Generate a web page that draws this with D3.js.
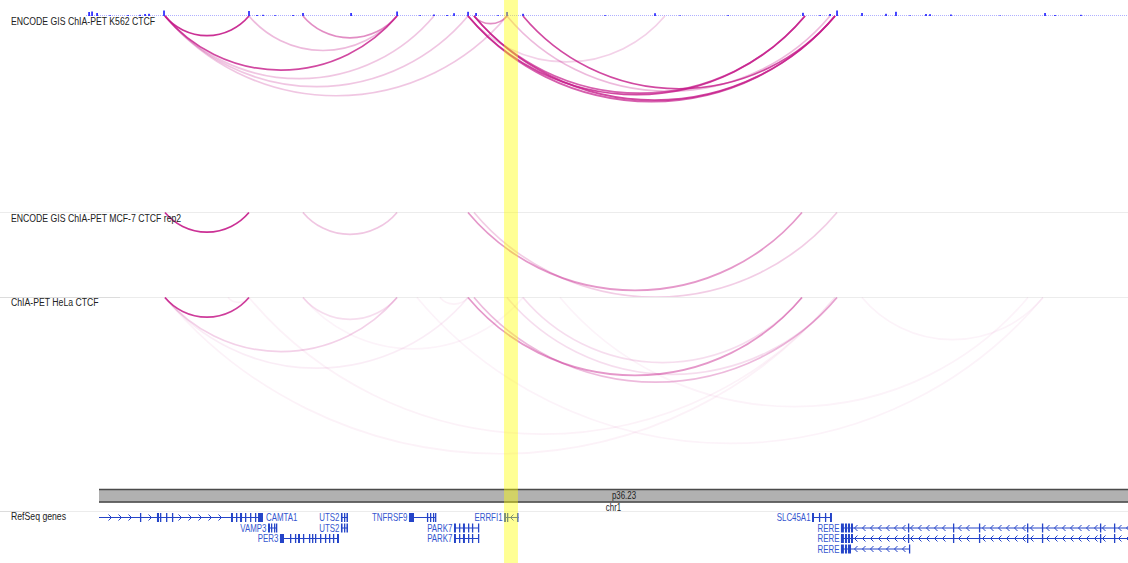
<!DOCTYPE html>
<html>
<head>
<meta charset="utf-8">
<script src="https://cdn.jsdelivr.net/npm/d3@7"></script>
<style>
  body { margin: 0; background: #fff; }
  svg { display: block; font-family: "Liberation Sans", Arial, sans-serif; }
</style>
</head>
<body>
<svg id="chart" width="1128" height="563"></svg>
<script>
// View: chr1, coordinates in kb
const viewStart = 7562.8, viewEnd = 8705.5;
const highlightStart = 8073.4, highlightEnd = 8087.5;

// CTCF signal (bigwig) positions (kb) and values
const signalPos = [7653.0, 7656.0, 7661.1, 7674.2, 7692.5, 7704.6, 7709.7, 7713.7, 7728.9, 7815.0,
  7823.1, 7829.2, 7841.4, 7859.6, 7869.7, 7918.4, 7965.0, 7988.3, 8002.4, 8015.6,
  8022.7, 8036.9, 8045.0, 8067.3, 8076.4, 8092.6, 8175.7, 8226.3, 8251.6, 8300.3,
  8376.2, 8393.5, 8403.6, 8410.7, 8436.0, 8460.3, 8470.4, 8484.6, 8500.8, 8504.9,
  8526.1, 8575.8, 8621.4, 8631.5, 8657.8];
const signalVal = [40, 45, 30, 8, 10, 12, 20, 22, 55, 50,
  10, 12, 8, 10, 30, 30, 45, 8, 15, 10,
  28, 42, 30, 8, 40, 22, 8, 28, 6, 8,
  32, 8, 20, 55, 30, 22, 42, 6, 20, 18,
  15, 5, 30, 10, 12];

// ChIA-PET interactions: [anchor1 kb, anchor2 kb, PET score]
const k562Arcs = [
  [7729.9, 7815.0, 9], [7729.9, 7965.0, 8], [7815.0, 7965.0, 3], [7869.7, 7965.0, 5],
  [7729.9, 8002.4, 2.5], [7729.9, 8036.9, 2.5], [7729.9, 8076.4, 2.5], [8043.0, 8076.4, 5],
  [8036.9, 8236.4, 2], [8036.9, 8378.3, 8], [8043.0, 8378.3, 7], [8036.9, 8408.7, 7],
  [8043.0, 8408.7, 8], [8092.6, 8408.7, 8], [8076.4, 8403.6, 3]
];
const mcf7Arcs = [
  [7729.9, 7815.0, 9], [7869.7, 7965.0, 2.5], [8036.9, 8375.2, 4.5], [8043.0, 8410.7, 2.2]
];
const helaArcs = [
  [7729.9, 7815.0, 8.5], [7793.8, 7815.0, 0.6], [7869.7, 7965.0, 1.5], [7729.9, 7965.0, 2],
  [7729.9, 8036.9, 0.8], [7729.9, 8408.7, 0.6], [7815.0, 8408.7, 0.6], [7985.2, 8619.4, 0.5],
  [8036.9, 8375.2, 4.5], [8043.0, 8410.7, 3], [8092.6, 8375.2, 1.5], [8076.4, 8410.7, 1.5],
  [8008.5, 8036.9, 0.6], [8130.1, 8604.2, 0.5], [8436.0, 8619.4, 0.5], [7869.7, 8092.6, 0.5]
];

const trackNames = ["ENCODE GIS ChIA-PET K562 CTCF", "ENCODE GIS ChIA-PET MCF-7 CTCF rep2", "ChIA-PET HeLa CTCF"];

// Ideogram
const chromName = "chr1";
const bandName = "p36.23";

// RefSeq genes
const geneNames  = ["CAMTA1", "UTS2", "TNFRSF9", "ERRFI1", "SLC45A1", "VAMP3", "UTS2", "PARK7", "RERE", "PER3", "PARK7", "RERE", "RERE"];
const geneRow    = [0, 0, 0, 0, 0, 1, 1, 1, 1, 2, 2, 2, 3];
const geneStrand = ["+", "-", "-", "-", "+", "+", "-", "+", "-", "+", "+", "-", "-"];
const geneStart  = [6845.5, 7908.2, 7977.1, 8073.4, 8385.4, 7834.3, 7908.2, 8022.7, 8414.7, 7846.4, 8022.7, 8414.7, 8414.7];
const geneEnd    = [7829.2, 7915.3, 8004.5, 8088.0, 8405.6, 7843.4, 7915.3, 8048.0, 8877.7, 7906.2, 8048.0, 8877.7, 8484.6];
const geneExons  = [
  [[7704.6, 7705.6], [7721.8, 7723.9], [7724.9, 7725.9], [7731.0, 7732.0], [7737.0, 7738.0], [7796.8, 7798.8], [7801.9, 7802.9],
   [7805.9, 7808.0], [7811.0, 7812.0], [7816.1, 7817.1], [7821.1, 7822.1], [7824.2, 7829.2]],
  [[7908.2, 7909.8], [7911.3, 7912.3], [7913.8, 7915.3]],
  [[7977.1, 7982.2], [7995.3, 7996.4], [7998.4, 7999.4], [8001.4, 8002.4], [8003.5, 8004.5]],
  [[8073.4, 8075.4], [8076.4, 8077.4], [8086.5, 8088.0]],
  [[8385.4, 8387.4], [8392.4, 8393.5], [8398.5, 8399.5], [8403.6, 8405.6]],
  [[7834.3, 7836.3], [7837.3, 7838.3], [7840.4, 7841.4], [7842.4, 7843.4]],
  [[7908.2, 7909.8], [7911.3, 7912.3], [7913.8, 7915.3]],
  [[8022.7, 8024.7], [8027.8, 8028.8], [8031.8, 8033.8], [8036.9, 8037.9], [8040.9, 8042.0], [8047.0, 8048.0]],
  [[8414.7, 8417.7], [8418.8, 8420.8], [8421.8, 8423.9], [8424.9, 8426.9], [8482.6, 8483.6], [8528.2, 8529.2], [8554.5, 8555.5],
   [8603.2, 8604.2], [8618.3, 8619.4], [8677.1, 8678.1], [8691.3, 8692.3]],
  [[7846.4, 7850.5], [7856.6, 7857.6], [7861.6, 7862.6], [7864.7, 7866.7], [7869.7, 7870.8], [7875.8, 7876.8], [7878.9, 7879.9],
   [7881.9, 7882.9], [7887.0, 7888.0], [7892.0, 7893.0], [7896.1, 7897.1], [7900.1, 7901.1], [7904.2, 7906.2]],
  [[8022.7, 8024.7], [8027.8, 8028.8], [8031.8, 8033.8], [8036.9, 8037.9], [8040.9, 8042.0], [8047.0, 8048.0]],
  [[8414.7, 8417.7], [8418.8, 8420.8], [8421.8, 8423.9], [8424.9, 8426.9], [8482.6, 8483.6], [8528.2, 8529.2], [8554.5, 8555.5],
   [8603.2, 8604.2], [8618.3, 8619.4], [8677.1, 8678.1], [8691.3, 8692.3]],
  [[8414.7, 8417.7], [8418.8, 8420.8], [8421.8, 8424.9], [8483.6, 8484.6]]
];

// ---------------------------------------------------------------------------
const W = 1128, H = 563;
const svg = d3.select("#chart");
const x = d3.scaleLinear().domain([viewStart, viewEnd]).range([0, W]);

const ARC_COLOR = "#c51b8a";
const GENE_COLOR = "#2444c8";
const LABEL_COLOR = "#3556cf";
const annotLeft = 99; // ideogram and gene tracks start after their legend column

const opacity = d3.scaleLinear().domain([0, 10]).range([0, 1]).clamp(true);
const sigY = d3.scaleLinear().domain([0, 60]).range([0, 6]);

// separators between tracks
function separator(y, leftDark) {
  svg.append("line").attr("x1", 0).attr("x2", W).attr("y1", y).attr("y2", y)
    .attr("stroke", "#ececec").attr("stroke-width", 1);
  if (leftDark) {
    svg.append("line").attr("x1", 0).attr("x2", leftDark).attr("y1", y).attr("y2", y)
      .attr("stroke", "#dcdcdc").attr("stroke-width", 1);
  }
}
separator(212.5, 0);
separator(297.5, 120);
separator(511.5, 40);

// ---- signal track ----
const sig = svg.append("g");
sig.append("line").attr("x1", 86).attr("x2", W).attr("y1", 15.5).attr("y2", 15.5)
  .attr("stroke", "#6f6fff").attr("stroke-opacity", 0.55).attr("stroke-dasharray", "1,1");
sig.selectAll("rect").data(d3.range(signalPos.length)).join("rect")
  .attr("x", i => x(signalPos[i]) - 0.75)
  .attr("width", 1.6)
  .attr("y", i => 16 - sigY(signalVal[i]))
  .attr("height", i => sigY(signalVal[i]))
  .attr("fill", "#1a1aff");

// ---- arc tracks ----
const THETA = 50 * Math.PI / 180;
function arcPath(d, top) {
  const x1 = x(d[0]), x2 = x(d[1]);
  const w = (x2 - x1) / 2, R = w / Math.sin(THETA);
  const cx = x1 + w, cy = top - R * Math.cos(THETA);
  const p = d3.path();
  p.moveTo(x1, top);
  p.arc(cx, cy, R, Math.PI / 2 + THETA, Math.PI / 2 - THETA, true);
  return p.toString();
}

const arcTracks = [
  { arcs: k562Arcs, top: 16, bottom: 212, labelY: 25 },
  { arcs: mcf7Arcs, top: 212.5, bottom: 297, labelY: 222 },
  { arcs: helaArcs, top: 297.5, bottom: 488, labelY: 306 }
];
const defs = svg.append("defs");
arcTracks.forEach((t, ti) => {
  defs.append("clipPath").attr("id", "clip" + ti)
    .append("rect").attr("x", 0).attr("y", t.top - 1).attr("width", W).attr("height", t.bottom - t.top + 1);
  const g = svg.append("g").attr("clip-path", `url(#clip${ti})`);
  g.selectAll("path").data(t.arcs.slice().sort((a, b) => a[2] - b[2])).join("path")
    .attr("d", d => arcPath(d, t.top))
    .attr("fill", "none")
    .attr("stroke", ARC_COLOR)
    .attr("stroke-width", 1.7)
    .attr("stroke-opacity", d => opacity(d[2]));
});

// track legends
function condensedText(txt, tx, ty, size, color, anchor) {
  return svg.append("text")
    .attr("transform", `translate(${tx},${ty}) scale(0.79,1)`)
    .attr("font-size", size).attr("fill", color)
    .attr("text-anchor", anchor || "start")
    .text(txt);
}
arcTracks.forEach((t, ti) => condensedText(trackNames[ti], 11, t.labelY, 11, "#222"));

// ---- ideogram ----
const ideo = svg.append("g");
ideo.append("rect").attr("x", annotLeft).attr("y", 490).attr("width", W - annotLeft).attr("height", 11.5)
  .attr("fill", "#b1b1b1");
ideo.append("line").attr("x1", annotLeft).attr("x2", W).attr("y1", 489.5).attr("y2", 489.5)
  .attr("stroke", "#4a4a4a").attr("stroke-width", 1.6);
ideo.append("line").attr("x1", annotLeft).attr("x2", W).attr("y1", 502).attr("y2", 502)
  .attr("stroke", "#3a3a3a").attr("stroke-width", 1.6);
condensedText(bandName, 624, 499, 10, "#222", "middle");
condensedText(chromName, (annotLeft + W) / 2, 511, 10, "#222", "middle");

// ---- genes ----
condensedText("RefSeq genes", 11, 520, 11, "#222");
const rowY = [517.5, 528, 538.5, 549];
const genesG = svg.append("g");
defs.append("clipPath").attr("id", "geneClip")
  .append("rect").attr("x", annotLeft).attr("y", 505).attr("width", W - annotLeft).attr("height", 58);
const body = genesG.append("g").attr("clip-path", "url(#geneClip)");

geneNames.forEach((name, i) => {
  const y = rowY[geneRow[i]];
  const xs = Math.max(x(geneStart[i]), annotLeft), xe = Math.min(x(geneEnd[i]), W + 5);
  body.append("line").attr("x1", xs).attr("x2", xe).attr("y1", y).attr("y2", y)
    .attr("stroke", GENE_COLOR).attr("stroke-width", 1);
  const exPx = geneExons[i].map(e => [x(e[0]), x(e[1])]);
  // strand chevrons along introns
  const dir = geneStrand[i] === "+" ? 1 : -1;
  const step = dir > 0 ? 10 : 8;
  for (let px = Math.ceil((xs + 4) / step) * step; px < xe - 3; px += step) {
    if (exPx.some(e => px > e[0] - 3 && px < e[1] + 3)) continue;
    body.append("path")
      .attr("d", `M${px - 1.5 * dir},${y - 3}L${px + 1.5 * dir},${y}L${px - 1.5 * dir},${y + 3}`)
      .attr("fill", "none").attr("stroke", GENE_COLOR).attr("stroke-width", 1);
  }
  body.selectAll(null).data(exPx).join("rect")
    .attr("x", e => e[0]).attr("width", e => Math.max(1.3, e[1] - e[0]))
    .attr("y", y - 4.5).attr("height", 9)
    .attr("fill", GENE_COLOR);
  if (geneStart[i] < viewStart) {
    condensedText(name, x(geneEnd[i]) + 3, y + 3.5, 10, LABEL_COLOR, "start");
  } else {
    condensedText(name, x(geneStart[i]) - 1.5, y + 3.5, 10, LABEL_COLOR, "end");
  }
});

// ---- highlighted region ----
svg.append("rect")
  .attr("x", x(highlightStart)).attr("width", x(highlightEnd) - x(highlightStart))
  .attr("y", 0).attr("height", H)
  .attr("fill", "#ffff00").attr("fill-opacity", 0.42);
</script>
</body>
</html>
